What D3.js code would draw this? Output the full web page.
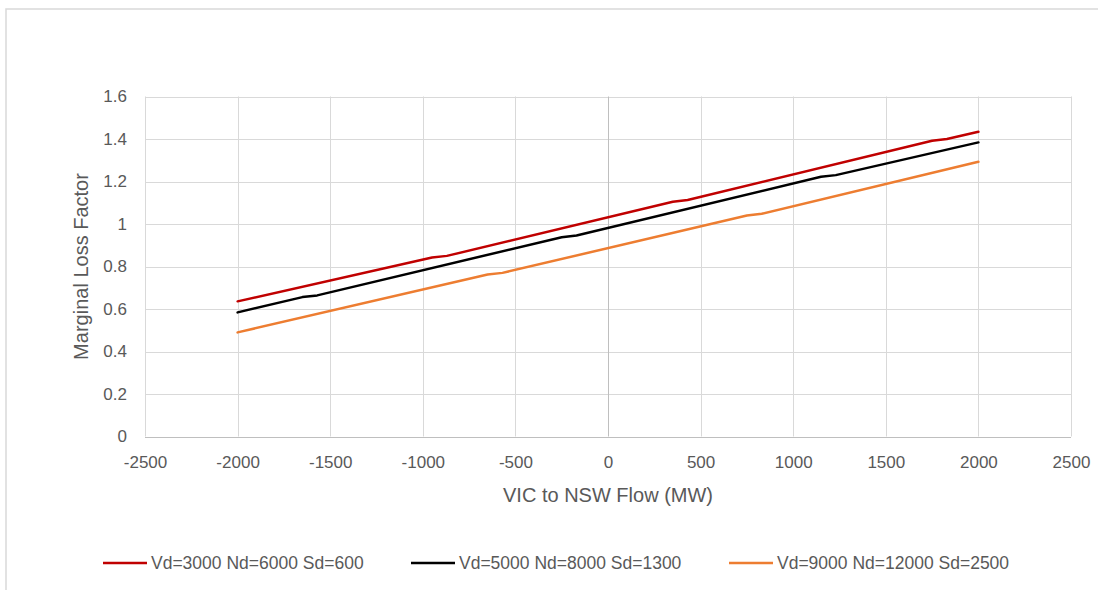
<!DOCTYPE html>
<html>
<head>
<meta charset="utf-8">
<script src="https://cdn.jsdelivr.net/npm/d3@7"></script>
<style>
  html, body { margin: 0; padding: 0; background: #fff; }
  svg { display: block; }
  text { font-family: "Liberation Sans", Arial, sans-serif; fill: #595959; }
</style>
</head>
<body>
<svg id="chart" width="1098" height="590"></svg>
<script>
// ---- data ----
const xTicks = [-2500, -2000, -1500, -1000, -500, 0, 500, 1000, 1500, 2000, 2500];
const yTicks = [0, 0.2, 0.4, 0.6, 0.8, 1, 1.2, 1.4, 1.6];
const xTitle = "VIC to NSW Flow (MW)";
const yTitle = "Marginal Loss Factor";

const seriesNames = ["Vd=3000 Nd=6000 Sd=600", "Vd=5000 Nd=8000 Sd=1300", "Vd=9000 Nd=12000 Sd=2500"];
const seriesColors = ["#C00000", "#000000", "#ED7D31"];

const redFlow    = [-2000, -950, -870, 350, 430, 1750, 1830, 2000];
const redMLF     = [0.636, 0.842, 0.850, 1.105, 1.113, 1.392, 1.400, 1.434];
const blackFlow  = [-2000, -1650, -1570, -250, -170, 1150, 1230, 2000];
const blackMLF   = [0.584, 0.656, 0.664, 0.938, 0.946, 1.222, 1.230, 1.384];
const orangeFlow = [-2000, -650, -570, 750, 830, 2000];
const orangeMLF  = [0.490, 0.762, 0.770, 1.040, 1.048, 1.293];

const seriesData = [
  d3.zip(redFlow, redMLF),
  d3.zip(blackFlow, blackMLF),
  d3.zip(orangeFlow, orangeMLF)
];

// ---- layout ----
const svg = d3.select("#chart");
const plot = { left: 145, right: 1071, top: 96.5, bottom: 436.5 };

const x = d3.scaleLinear().domain([-2500, 2500]).range([plot.left, plot.right]);
const y = d3.scaleLinear().domain([0, 1.6]).range([plot.bottom, plot.top]);

// outer chart border
svg.append("rect")
  .attr("x", 6).attr("y", 9)
  .attr("width", 1200).attr("height", 700)
  .attr("fill", "none").attr("stroke", "#d9d9d9").attr("stroke-width", 1.5);

// gridlines
const grid = svg.append("g");
grid.selectAll("line.h").data(yTicks.filter(d => d !== 0)).join("line")
  .attr("x1", plot.left).attr("x2", plot.right)
  .attr("y1", d => Math.round(y(d)) + 0.5).attr("y2", d => Math.round(y(d)) + 0.5)
  .attr("stroke", "#d9d9d9").attr("stroke-width", 1);
grid.selectAll("line.v").data(xTicks.filter(d => d !== 0)).join("line")
  .attr("y1", plot.top).attr("y2", plot.bottom)
  .attr("x1", d => Math.round(x(d)) + 0.5).attr("x2", d => Math.round(x(d)) + 0.5)
  .attr("stroke", "#d9d9d9").attr("stroke-width", 1);

// axis lines (x axis at y=0, y axis crossing at x=0)
svg.append("line")
  .attr("x1", plot.left).attr("x2", plot.right)
  .attr("y1", Math.round(y(0)) + 0.5).attr("y2", Math.round(y(0)) + 0.5)
  .attr("stroke", "#bfbfbf").attr("stroke-width", 1);
svg.append("line")
  .attr("x1", Math.round(x(0)) + 0.5).attr("x2", Math.round(x(0)) + 0.5)
  .attr("y1", plot.top).attr("y2", plot.bottom)
  .attr("stroke", "#bfbfbf").attr("stroke-width", 1);

// y tick labels
const yAxis = d3.axisLeft(y).tickValues(yTicks).tickSize(0).tickPadding(0)
  .tickFormat(d => d3.format("~g")(d));
const gy = svg.append("g").attr("transform", `translate(${127},0)`).call(yAxis);
gy.select(".domain").remove();
gy.selectAll("text").attr("font-size", 17).attr("fill", "#595959")
  .attr("font-family", "'Liberation Sans', Arial, sans-serif");

// x tick labels
const xAxis = d3.axisBottom(x).tickValues(xTicks).tickSize(0).tickPadding(0)
  .tickFormat(d => String(d));
const gx = svg.append("g").attr("transform", `translate(0,${456})`).call(xAxis);
gx.select(".domain").remove();
gx.selectAll("text").attr("font-size", 17).attr("fill", "#595959")
  .attr("font-family", "'Liberation Sans', Arial, sans-serif");

// axis titles
svg.append("text")
  .attr("x", (plot.left + plot.right) / 2).attr("y", 502)
  .attr("text-anchor", "middle").attr("font-size", 20)
  .text(xTitle);
svg.append("text")
  .attr("transform", `translate(88,${(plot.top + plot.bottom) / 2}) rotate(-90)`)
  .attr("text-anchor", "middle").attr("font-size", 20)
  .text(yTitle);

// series lines
const line = d3.line().x(d => x(d[0])).y(d => y(d[1]));
svg.append("g").selectAll("path").data(seriesData).join("path")
  .attr("d", line)
  .attr("fill", "none")
  .attr("stroke", (d, i) => seriesColors[i])
  .attr("stroke-width", 2.5)
  .attr("stroke-linejoin", "round")
  .attr("stroke-linecap", "round");

// legend
const legendX = [103, 411, 729];
const legendY = 563;
const lg = svg.append("g").selectAll("g").data(seriesNames).join("g")
  .attr("transform", (d, i) => `translate(${legendX[i]},${legendY})`);
lg.append("line")
  .attr("x1", 0).attr("x2", 44).attr("y1", 0).attr("y2", 0)
  .attr("stroke", (d, i) => seriesColors[i]).attr("stroke-width", 2.5);
lg.append("text")
  .attr("x", 48).attr("y", 0).attr("dy", "0.35em")
  .attr("font-size", 17.5)
  .text(d => d);
</script>
</body>
</html>
